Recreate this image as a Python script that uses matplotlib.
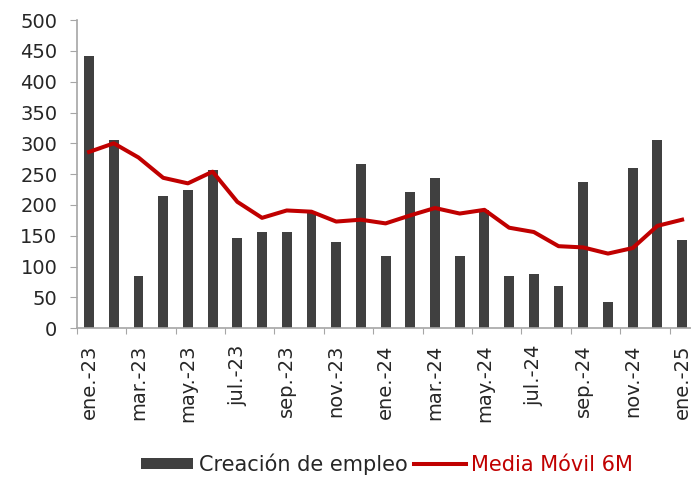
import matplotlib.pyplot as plt
import numpy as np

plt.rcParams['font.family'] = ['DejaVu Sans']

meses = ['ene.-23', 'feb.-23', 'mar.-23', 'abr.-23', 'may.-23', 'jun.-23',
         'jul.-23', 'ago.-23', 'sep.-23', 'oct.-23', 'nov.-23', 'dic.-23',
         'ene.-24', 'feb.-24', 'mar.-24', 'abr.-24', 'may.-24', 'jun.-24',
         'jul.-24', 'ago.-24', 'sep.-24', 'oct.-24', 'nov.-24', 'dic.-24',
         'ene.-25']
empleo = [442, 305, 85, 215, 224, 257, 146, 156, 156, 187, 140, 266,
          117, 221, 244, 117, 191, 85, 88, 68, 237, 42, 260, 305, 143]
media_6m = [286, 300, 277, 244, 235, 254, 205, 179, 191, 189, 173, 176,
            170, 183, 195, 186, 192, 163, 156, 133, 131, 121, 130, 166, 176]

gris = '#404040'
rojo = '#C00000'
eje = '#A6A6A6'

fig = plt.figure(figsize=(6.91, 4.79), dpi=100)
ax = fig.add_axes([0.111, 0.315, 0.894, 0.643])

x = np.arange(len(meses))
barras = ax.bar(x, empleo, width=0.4, color=gris, label='Creación de empleo', zorder=2)
linea, = ax.plot(x, media_6m, color=rojo, linewidth=2.9, label='Media Móvil 6M', zorder=3)

ax.set_xlim(-0.5, len(meses) - 0.5)
ax.set_ylim(0, 500)
ax.set_yticks(range(0, 501, 50))

# tick marks on month boundaries, labels on every other month
ax.set_xticks(np.arange(-0.5, len(meses), 2))
ax.set_xticklabels([])
ax.set_xticks(x[::2], minor=True)
ax.set_xticklabels(meses[::2], minor=True, rotation=90)
ax.tick_params(axis='x', which='major', length=4, color=eje)
ax.tick_params(axis='x', which='minor', length=0, pad=12)
ax.tick_params(axis='both', which='both', labelsize=14, labelcolor='#262626')
ax.tick_params(axis='y', length=5, color=eje, pad=9)

for s in ['top', 'right']:
    ax.spines[s].set_visible(False)
for s in ['left', 'bottom']:
    ax.spines[s].set_color(eje)
    ax.spines[s].set_linewidth(1.2)

leg = fig.legend([barras, linea], ['Creación de empleo', 'Media Móvil 6M'],
                 loc='center', bbox_to_anchor=(0.56, 0.031), ncol=2, frameon=False,
                 fontsize=15, handlelength=2.5, handleheight=0.45,
                 handletextpad=0.25, columnspacing=0.3)
leg.get_texts()[0].set_color('#262626')
leg.get_texts()[1].set_color(rojo)

fig.savefig('out.png', dpi=100)
